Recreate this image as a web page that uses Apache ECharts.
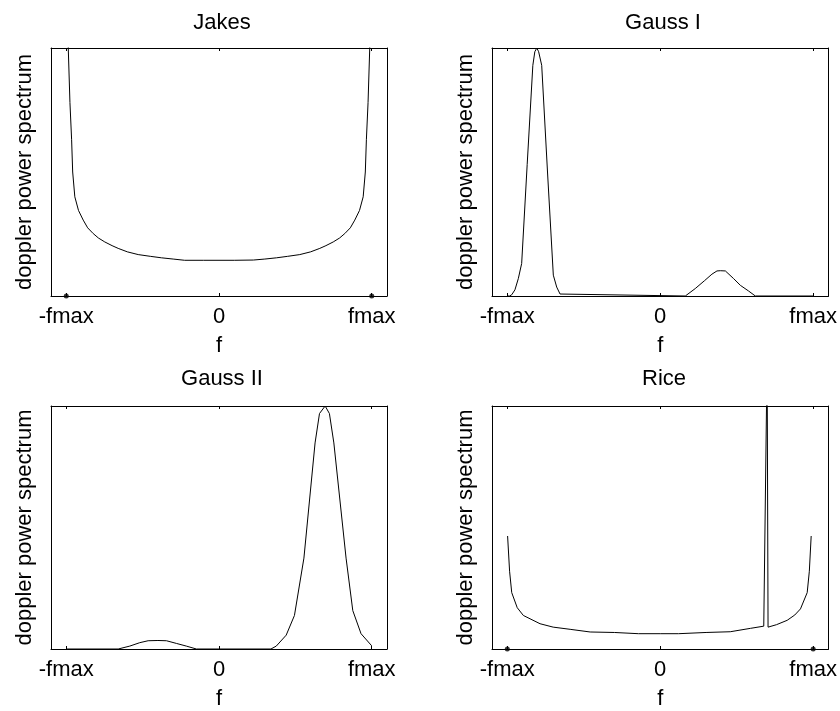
<!DOCTYPE html>
<html><head><meta charset="utf-8">
<script src="https://cdn.jsdelivr.net/npm/echarts@6/dist/echarts.min.js"></script>
<style>html,body{margin:0;padding:0;background:#fff}#c{width:840px;height:711px}</style>
</head><body><div id="c"></div>
<script>
// Tick positions (in units of fmax) and their labels
const tickValues = [-1, 0, 1];
const tickLabels = ['-fmax', '0', 'fmax'];
const titles = ['Jakes', 'Gauss I', 'Gauss II', 'Rice'];

// Jakes spectrum (normalised to axis top = 1)
const jakesF = [-0.995, -0.987, -0.976, -0.965, -0.958, -0.944, -0.92, -0.889, -0.86, -0.824, -0.79, -0.748, -0.7, -0.66, -0.6, -0.529, -0.45, -0.377, -0.3, -0.225, -0.1, 0, 0.1, 0.225, 0.3, 0.377, 0.45, 0.529, 0.6, 0.66, 0.7, 0.748, 0.79, 0.824, 0.86, 0.889, 0.92, 0.944, 0.958, 0.965, 0.976, 0.987, 0.995];
const jakesV = [1.5, 1.0, 0.78, 0.63, 0.5, 0.40, 0.345, 0.306, 0.275, 0.252, 0.234, 0.218, 0.203, 0.192, 0.178, 0.167, 0.16, 0.154, 0.149, 0.144, 0.144, 0.144, 0.144, 0.145, 0.149, 0.154, 0.16, 0.167, 0.178, 0.192, 0.203, 0.218, 0.234, 0.252, 0.275, 0.306, 0.345, 0.40, 0.5, 0.63, 0.78, 1.0, 1.5];
const jakesDotF = [-1, 1];
const jakesDotV = [0, 0];

// Gauss I
const gauss1F = [-1, -0.985, -0.971, -0.95, -0.928, -0.906, -0.87, -0.833, -0.82, -0.807, -0.795, -0.775, -0.737, -0.699, -0.677, -0.655, -0.644, 0.164, 0.229, 0.29, 0.338, 0.371, 0.393, 0.426, 0.48, 0.524, 0.578, 0.622, 1];
const gauss1V = [0, 0, 0.005, 0.025, 0.07, 0.131, 0.53, 0.93, 0.985, 1.0, 0.985, 0.93, 0.5, 0.084, 0.036, 0.008, 0, 0, 0.03, 0.062, 0.088, 0.101, 0.102, 0.101, 0.07, 0.043, 0.02, 0, 0];

// Gauss II
const gauss2F = [-1, -0.66, -0.584, -0.519, -0.464, -0.4, -0.344, -0.279, -0.214, -0.148, 0.34, 0.375, 0.44, 0.494, 0.556, 0.629, 0.658, 0.695, 0.723, 0.752, 0.832, 0.876, 0.93, 1.0];
const gauss2V = [0, 0, 0.012, 0.026, 0.034, 0.035, 0.034, 0.023, 0.012, 0, 0, 0.012, 0.057, 0.138, 0.374, 0.848, 0.969, 1.0, 0.969, 0.848, 0.374, 0.158, 0.063, 0.013];

// Rice
const riceF = [-0.998, -0.985, -0.971, -0.935, -0.895, -0.786, -0.7, -0.589, -0.458, -0.3, -0.142, 0, 0.12, 0.3, 0.458, 0.59, 0.677, 0.699, 0.705, 0.76, 0.83, 0.88, 0.917, 0.961, 0.975, 0.987];
const riceV = [0.465, 0.32, 0.232, 0.17, 0.138, 0.104, 0.09, 0.081, 0.07, 0.068, 0.063, 0.063, 0.063, 0.068, 0.071, 0.085, 0.094, 1.2, 0.09, 0.1, 0.118, 0.14, 0.165, 0.232, 0.32, 0.465];
const riceDotF = [-1, 1];
const riceDotV = [0, 0];

const zip = (a, b) => a.map((x, i) => [x, b[i]]);
const FONT = "'Liberation Sans', Arial, Helvetica, sans-serif";
const FS = 22;

const grids = [
  {left: 51, top: 48, width: 336, height: 248},
  {left: 492, top: 48, width: 337, height: 248},
  {left: 51, top: 406, width: 336, height: 246},
  {left: 492, top: 406, width: 337, height: 246}
];
const titlePos = [[217, 7], [658, 7], [217, 363], [659, 363]];

const lines = [zip(jakesF, jakesV), zip(gauss1F, gauss1V), zip(gauss2F, gauss2V), zip(riceF, riceV)];
const dots = [zip(jakesDotF, jakesDotV), null, null, zip(riceDotF, riceDotV)];

const xAxis = [], yAxis = [], series = [], title = [];
grids.forEach((g, i) => {
  title.push({text: titles[i], left: titlePos[i][0], top: titlePos[i][1], textAlign: 'center',
    textStyle: {fontFamily: FONT, fontSize: FS, fontWeight: 'normal', color: '#000'}});
  xAxis.push({type: 'value', gridIndex: i, min: -1.1, max: 1.1, position: 'bottom',
    name: 'f', nameLocation: 'middle', nameGap: 39,
    nameTextStyle: {fontFamily: FONT, fontSize: FS, color: '#000'},
    axisLine: {show: true, onZero: false, lineStyle: {color: '#000', width: 1}},
    axisTick: {show: true, inside: true, length: 3, customValues: tickValues, lineStyle: {color: '#000'}},
    axisLabel: {show: true, margin: 10, customValues: tickValues, fontFamily: FONT, fontSize: FS, color: '#000',
      formatter: v => tickLabels[tickValues.indexOf(v)]},
    splitLine: {show: false}});
  xAxis.push({type: 'value', gridIndex: i, min: -1.1, max: 1.1, position: 'top',
    axisLine: {show: true, onZero: false, lineStyle: {color: '#000', width: 1}},
    axisTick: {show: true, inside: true, length: 3, customValues: tickValues, lineStyle: {color: '#000'}},
    axisLabel: {show: false}, splitLine: {show: false}});
  yAxis.push({type: 'value', gridIndex: i, min: 0, max: 1, position: 'left',
    name: 'doppler power spectrum', nameLocation: 'middle', nameRotate: 90, nameGap: 15,
    nameTextStyle: {fontFamily: FONT, fontSize: FS, color: '#000'},
    axisLine: {show: true, onZero: false, lineStyle: {color: '#000', width: 1}},
    axisTick: {show: false}, axisLabel: {show: false}, splitLine: {show: false}});
  yAxis.push({type: 'value', gridIndex: i, min: 0, max: 1, position: 'right',
    axisLine: {show: true, onZero: false, lineStyle: {color: '#000', width: 1}},
    axisTick: {show: false}, axisLabel: {show: false}, splitLine: {show: false}});
  series.push({type: 'line', xAxisIndex: 2 * i, yAxisIndex: 2 * i, data: lines[i],
    showSymbol: false, clip: true, lineStyle: {color: '#000', width: 1}, animation: false, silent: true});
  if (dots[i]) {
    series.push({type: 'scatter', xAxisIndex: 2 * i, yAxisIndex: 2 * i, data: dots[i],
      symbolSize: 5, itemStyle: {color: '#000'}, clip: false, animation: false, silent: true});
  }
});

const chart = echarts.init(document.getElementById('c'), null, {renderer: 'canvas'});
chart.setOption({backgroundColor: '#fff', animation: false, title, grid: grids, xAxis, yAxis, series});
</script>
</body></html>
